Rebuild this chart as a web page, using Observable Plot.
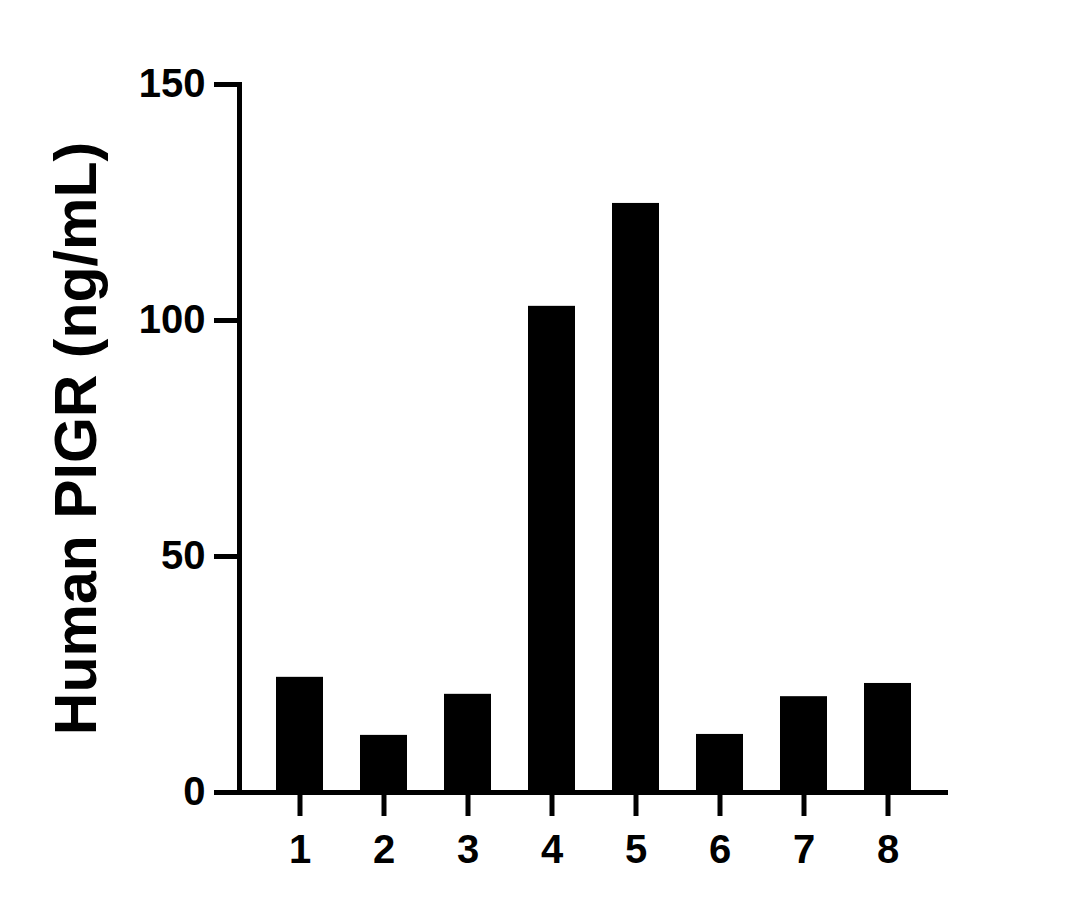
<!DOCTYPE html>
<html>
<head>
<meta charset="utf-8">
<script src="https://cdn.jsdelivr.net/npm/d3@7"></script>
<script src="https://cdn.jsdelivr.net/npm/@observablehq/plot@0.6"></script>
<style>
  html, body { margin: 0; padding: 0; background: #fff; overflow: hidden; }
</style>
</head>
<body>
<div id="chart"></div>
<script>
const samples = ["1", "2", "3", "4", "5", "6", "7", "8"];
const values = [24.4, 12.1, 20.8, 103.0, 124.8, 12.3, 20.3, 23.1];
const yTicks = [0, 50, 100, 150];
const yLabel = "Human PIGR (ng/mL)";

const data = samples.map((s, i) => ({sample: s, value: values[i]}));

const chart = Plot.plot({
  width: 1081,
  height: 909,
  marginLeft: 239,
  marginRight: 133,
  marginTop: 84,
  marginBottom: 117,
  style: {
    fontFamily: "'Liberation Sans', Arial, Helvetica, sans-serif",
    fontWeight: "bold",
    background: "#fff",
    color: "#000"
  },
  x: {domain: samples, padding: 0.44},
  y: {domain: [0, 150]},
  marks: [
    Plot.barY(data, {x: "sample", y: "value", fill: "#000"}),
    Plot.frame({anchor: "left", stroke: "#000", strokeWidth: 5}),
    Plot.ruleY([0], {stroke: "#000", strokeWidth: 5, insetLeft: -25}),
    Plot.axisY({ticks: yTicks, tickSize: 25, tickPadding: 9, strokeWidth: 5, fontSize: 40, fontWeight: "bold", label: null}),
    Plot.axisX({tickSize: 24, tickPadding: 18, strokeWidth: 5, fontSize: 40, fontWeight: "bold", label: null}),
    Plot.text([yLabel], {frameAnchor: "left", textAnchor: "middle", lineAnchor: "middle", rotate: -90, dx: -162, fontSize: 59, fontWeight: "bold", fill: "#000"})
  ]
});
document.getElementById("chart").appendChild(chart);
</script>
</body>
</html>
